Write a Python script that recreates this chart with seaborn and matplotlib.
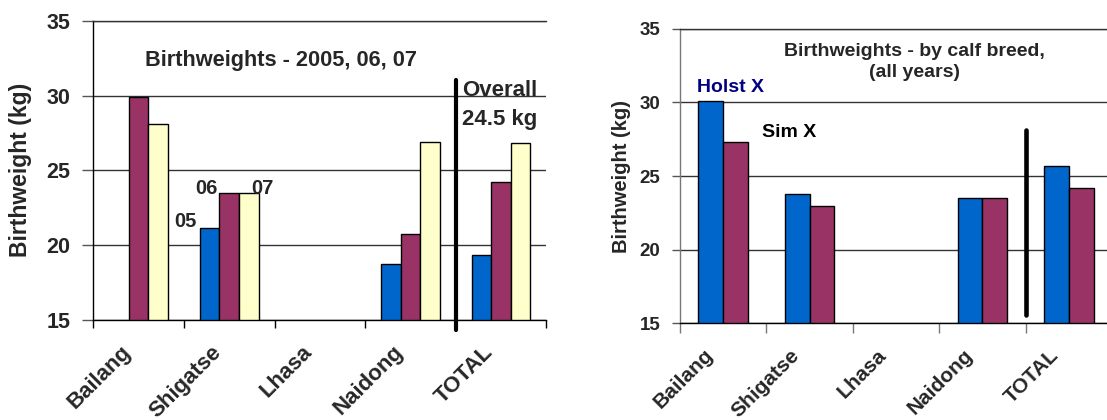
import numpy as np
import pandas as pd
import matplotlib
matplotlib.use("Agg")
import matplotlib.pyplot as plt
import matplotlib.transforms as mtransforms
import seaborn as sns

# ---- data -------------------------------------------------------------
sites = ["Bailang", "Shigatse", "Lhasa", "Naidong", "TOTAL"]

# birthweight (kg) by year of birth
years = ["05", "06", "07"]
bw_2005 = [np.nan, 21.1, np.nan, 18.7, 19.3]
bw_2006 = [29.9, 23.5, np.nan, 20.7, 24.2]
bw_2007 = [28.1, 23.5, np.nan, 26.9, 26.8]

# birthweight (kg) by calf breed, all years pooled
breeds = ["Holst X", "Sim X"]
bw_holst = [30.1, 23.8, np.nan, 23.5, 25.7]
bw_sim = [27.3, 23.0, np.nan, 23.5, 24.2]

overall_mean = "24.5 kg"

# ---- style ------------------------------------------------------------
sns.set_style("white")
plt.rcParams["font.family"] = ["Liberation Sans", "DejaVu Sans"]
plt.rcParams["font.weight"] = "bold"
plt.rcParams["axes.labelweight"] = "bold"

BLUE = "#0066CC"
PLUM = "#993366"
CREAM = "#FFFFCC"

year_df = pd.DataFrame({
    "site": sites * 3,
    "year": [y for y in years for _ in sites],
    "kg": bw_2005 + bw_2006 + bw_2007,
}).dropna()

breed_df = pd.DataFrame({
    "site": sites * 2,
    "breed": [b for b in breeds for _ in sites],
    "kg": bw_holst + bw_sim,
}).dropna()

W, H = 1107, 420
fig = plt.figure(figsize=(W / 100, H / 100), dpi=100)
fig.patch.set_facecolor("white")


def px_axes(x0, x1, ytop, ybot):
    return fig.add_axes([x0 / W, 1 - ybot / H, (x1 - x0) / W, (ybot - ytop) / H])


def style_axes(ax, tick_fs, xtick_fs, ytick_len, xtick_len, spine_col,
               label_pad, xlab_pad, xlab_shift):
    ax.set_xlim(-0.5, 4.5)
    ax.set_ylim(15, 35)
    ax.set_yticks([15, 20, 25, 30, 35])
    ax.set_yticklabels(["15", "20", "25", "30", "35"], fontsize=tick_fs,
                       fontweight="bold")
    ax.set_xticks(range(len(sites)))
    ax.set_xticks(np.arange(-0.5, 5.0, 1.0), minor=True)
    ax.set_axisbelow(True)
    ax.yaxis.grid(True, color="#333333", linewidth=1.0)
    ax.spines["right"].set_visible(False)
    ax.spines["top"].set_color("#333333")
    ax.spines["top"].set_linewidth(1.0)
    ax.spines["left"].set_color(spine_col)
    ax.spines["left"].set_linewidth(1.0)
    ax.spines["bottom"].set_color("black")
    ax.spines["bottom"].set_linewidth(1.0)
    ax.tick_params(axis="y", which="major", direction="out", length=ytick_len,
                   width=1.0, color="#555555", pad=label_pad, left=True)
    ax.tick_params(axis="x", which="major", length=0, pad=xlab_pad)
    ax.tick_params(axis="x", which="minor", direction="out", length=xtick_len,
                   width=1.0, color=spine_col, bottom=True)
    ax.set_xticklabels(sites, rotation=45, ha="right", va="top",
                       rotation_mode="anchor", fontweight="bold",
                       fontsize=xtick_fs)
    shift = mtransforms.ScaledTranslation(xlab_shift / 72, 0, fig.dpi_scale_trans)
    for lab in ax.get_xticklabels():
        lab.set_transform(lab.get_transform() + shift)
    ax.set_xlabel("")


# ---- left panel: by year ---------------------------------------------
ax1 = px_axes(93.3, 546.3, 21, 319.5)
sns.barplot(data=year_df, x="site", y="kg", hue="year", order=sites,
            hue_order=years, palette=[BLUE, PLUM, CREAM], saturation=1,
            width=0.65, gap=0, edgecolor="black", linewidth=1.0,
            legend=False, ax=ax1)
style_axes(ax1, 15.5, 16, 8, 6, "black", 8.5, 16, -13)
ax1.set_ylabel("Birthweight (kg)", fontsize=16.5, fontweight="bold")
ax1.yaxis.set_label_coords(-0.135, 0.5)

ax1.text(1.57, 31.98, "Birthweights - 2005, 06, 07", ha="center",
         va="baseline", fontsize=15.7, fontweight="bold")
for lbl, x, y in zip(years, [0.521, 0.752, 1.368], [21.21, 23.38, 23.38]):
    ax1.text(x, y, lbl, ha="center", va="baseline", fontsize=14.5, fontweight="bold")
ax1.plot([3.5, 3.5], [14.3, 31.07], color="black", linewidth=3.0,
         solid_capstyle="round", clip_on=False, zorder=5)
ax1.text(3.573, 29.97, "Overall", ha="left", va="baseline", fontsize=16,
         fontweight="bold")
ax1.text(3.573, 28.03, overall_mean, ha="left", va="baseline", fontsize=16,
         fontweight="bold")

# ---- right panel: by breed --------------------------------------------
ax2 = px_axes(680, 1112, 28.7, 323.4)
sns.barplot(data=breed_df, x="site", y="kg", hue="breed", order=sites,
            hue_order=breeds, palette=[BLUE, PLUM], saturation=1,
            width=0.572, gap=0, edgecolor="black", linewidth=1.0,
            legend=False, ax=ax2)
style_axes(ax2, 13.5, 15, 6, 7, "#777777", 8, 16, -14)
ax2.set_ylabel("Birthweight (kg)", fontsize=14.5, fontweight="bold")
ax2.yaxis.set_label_coords(-0.113, 0.5)

ax2.text(2.21, 33.15, "Birthweights - by calf breed,", ha="center",
         va="baseline", fontsize=14, fontweight="bold")
ax2.text(2.21, 31.74, "(all years)", ha="center", va="baseline",
         fontsize=14, fontweight="bold")
ax2.text(-0.30, 30.73, "Holst X", ha="left", va="baseline", fontsize=14,
         fontweight="bold", color="#000080")
ax2.text(0.446, 27.63, "Sim X", ha="left", va="baseline", fontsize=14,
         fontweight="bold", color="black")
ax2.plot([3.5, 3.5], [15.58, 28.13], color="black", linewidth=3.3,
         solid_capstyle="round", zorder=5)

fig.savefig("out.png", dpi=100, facecolor="white")
